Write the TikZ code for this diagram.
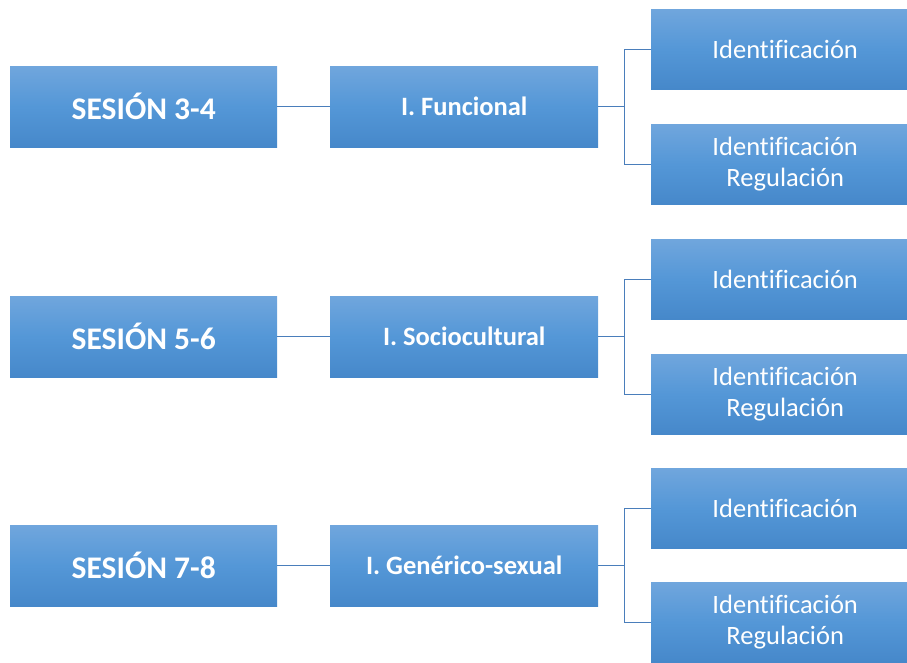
\documentclass[tikz,border=0pt]{standalone}
\usepackage{fontspec}
\setmainfont[Ligatures={NoCommon}]{Carlito}
\definecolor{gtop}{RGB}{112,166,221}
\definecolor{gmid}{RGB}{84,151,215}
\definecolor{gbot}{RGB}{70,136,202}
\definecolor{lineblue}{RGB}{74,126,187}
\begin{document}
\begin{tikzpicture}[x=1pt,y=-1pt,
  box/.style={draw=none,top color=gtop,bottom color=gbot,middle color=gmid,text=white,inner sep=0pt,align=center,anchor=north west},
  sess/.style={box,minimum width=267pt,minimum height=81pt,font=\bfseries\fontsize{31.5}{36}\selectfont},
  mid/.style={box,minimum width=268pt,minimum height=81pt,font=\bfseries\fontsize{26.5}{30}\selectfont},
  leaf/.style={box,minimum width=268pt,minimum height=80pt,font=\fontsize{26.5}{30.5}\selectfont},
  conn/.style={draw=lineblue,line width=1.3pt}]
\useasboundingbox (0,0) rectangle (907,662);
% row 1
\node[sess] (s1) at (10,66) {SESIÓN 3-4};
\node[mid] (m1) at (330,66) {I. Funcional};
\node[leaf] (a1) at (651,9) {Identificación};
\node[leaf] (b1) at (651,124) {Identificación\\Regulación};
% row 2
\node[sess] (s2) at (10,296) {SESIÓN 5-6};
\node[mid] (m2) at (330,296) {I. Sociocultural};
\node[leaf] (a2) at (651,239) {Identificación};
\node[leaf] (b2) at (651,354) {Identificación\\Regulación};
% row 3
\node[sess] (s3) at (10,525) {SESIÓN 7-8};
\node[mid] (m3) at (330,525) {I. Genérico-sexual};
\node[leaf] (a3) at (651,468) {Identificación};
\node[leaf] (b3) at (651,582) {Identificación\\Regulación};
% connectors
\foreach \i in {1,2,3}{
  \draw[conn] (s\i.east) -- (m\i.west);
  \coordinate (j\i) at ([xshift=26pt]m\i.east);
  \draw[conn] (m\i.east) -- (j\i);
  \draw[conn] (a\i.west) -| (j\i) |- (b\i.west);
}
\end{tikzpicture}
\end{document}
